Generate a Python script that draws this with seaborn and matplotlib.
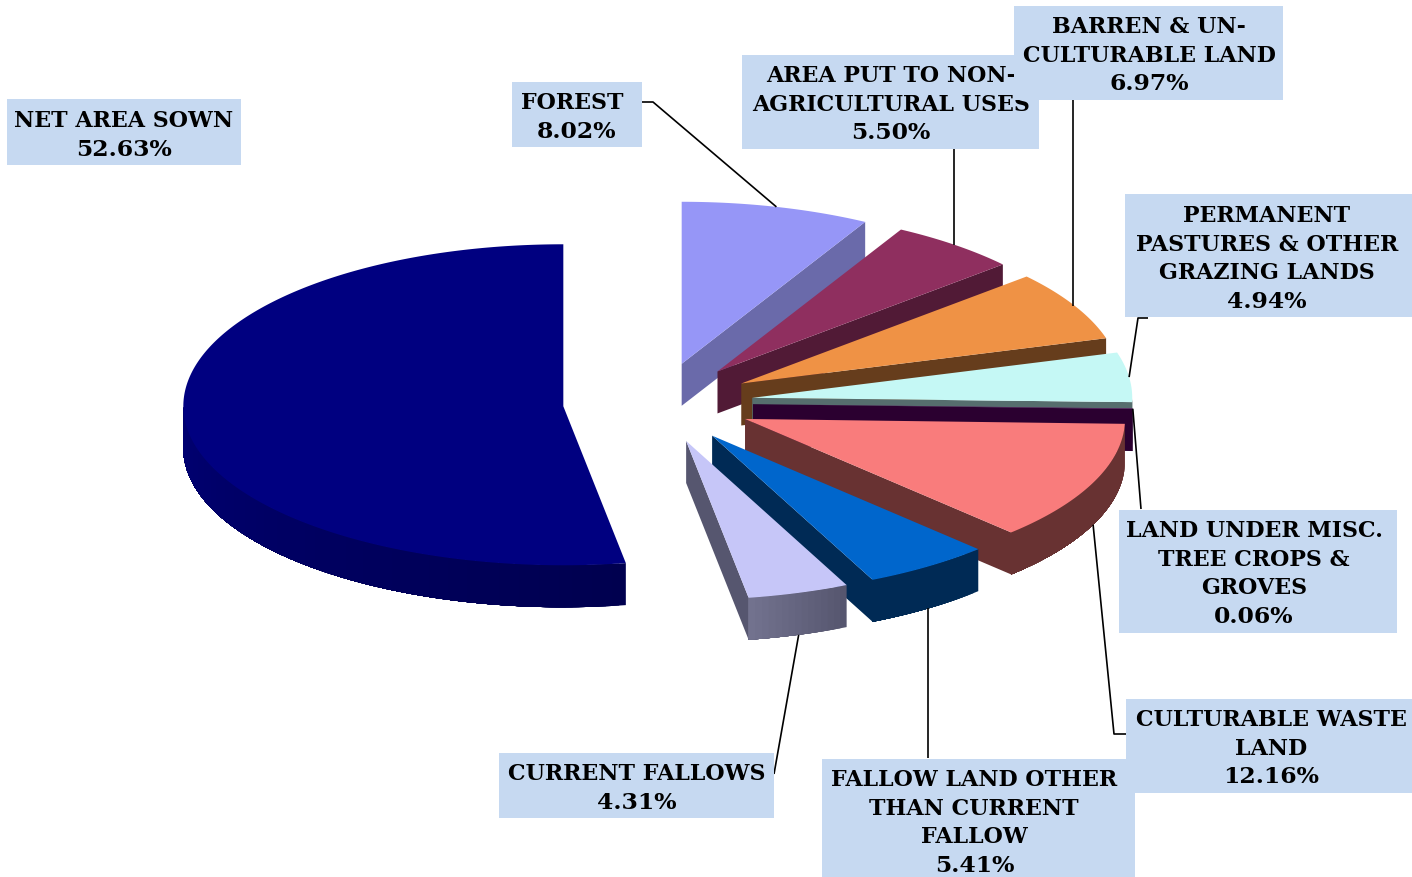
import matplotlib
matplotlib.use('Agg')
import matplotlib.pyplot as plt
import numpy as np
import seaborn as sns

# slices, clockwise from 12 o'clock
categories = [['FOREST'], ['AREA PUT TO NON-', 'AGRICULTURAL USES'], ['BARREN & UN-', 'CULTURABLE LAND'],
              ['PERMANENT', 'PASTURES & OTHER', 'GRAZING LANDS'], ['LAND UNDER MISC.', 'TREE CROPS &', 'GROVES'],
              ['CULTURABLE WASTE', 'LAND'], ['FALLOW LAND OTHER', 'THAN CURRENT', 'FALLOW'], ['CURRENT FALLOWS'],
              ['NET AREA SOWN']]
shares = [8.02, 5.50, 6.97, 4.94, 0.06, 12.16, 5.41, 4.31, 52.63]

top_colors = ['#9696F7', '#8F2F5F', '#EF9245', '#C5F8F5', '#5A0A5A', '#F97C7C', '#0066CC', '#C6C6F8', '#000080']
wall_colors = ['#6A6AAA', '#511A36', '#663D1C', '#566E6E', '#2B0030', '#683232', '#002A55', '#56566F', '#00004F']
wall_lights = ['#6A6AAA', '#511A36', '#663D1C', '#566E6E', '#2B0030', '#683232', '#002A55', '#72728E', '#000072']

# label boxes: left, top, right, bottom
boxes = [(512, 82, 642, 147), (742, 55, 1039, 149), (1014, 6, 1283, 100),
         (1125, 194, 1412, 317), (1119, 510, 1397, 633), (1126, 699, 1412, 793),
         (822, 759, 1135, 878), (499, 753, 774, 818), (7, 99, 241, 165)]
# text position of each label: x of the name, x of the percentage, y of the first line
name_x = [572, 891, 1149, 1267, 1254, 1271, 974, 637, 124]
value_x = [577, 891, 1149, 1267, 1254, 1271, 975, 637, 124]
first_y = [101, 74, 25, 214, 529, 718, 778, 772, 119]
line_step = 28.6
# leader lines run from the slice through these points to the box
leaders = [[(653, 103), (642, 103)], [(954, 149)], [(1073, 100)],
           [(1138, 319), (1148, 319)], [(1141, 510)], [(1114, 735), (1126, 735)],
           [(928, 759)], [(774, 775)], []]

center_x, center_y = 658, 404
radius_x = 380
radius_back, radius_front = 162, 159
depth = 42
explode = 0.25
box_color = '#C6D9F1'

sns.set_theme(style='white')
plt.rcParams['font.family'] = ['DejaVu Serif']

fig = plt.figure(figsize=(14.12, 8.78), dpi=100)
ax = fig.add_axes([0, 0, 1, 1])
ax.set_xlim(0, 1412)
ax.set_ylim(878, 0)
sns.despine(ax=ax, left=True, bottom=True)
ax.set_xticks([])
ax.set_yticks([])

edges = np.radians(np.concatenate([[0], np.cumsum(shares) / sum(shares) * 360]))


def point(x0, y0, t):
    # back half of the ellipse is a little taller than the front
    c = np.cos(t)
    return x0 + radius_x * np.sin(t), y0 - np.where(c > 0, radius_back, radius_front) * c


def arc(x0, y0, a, b):
    t = np.linspace(a, b, max(int(np.degrees(b - a) * 2), 2))
    return point(x0, y0, t)


for i in range(len(shares)):
    a, b = edges[i], edges[i + 1]
    mid = (a + b) / 2
    x0 = center_x + explode * radius_x * np.sin(mid)
    y0 = center_y - explode * np.where(np.cos(mid) > 0, radius_back, radius_front) * np.cos(mid)

    # side facing the viewer along the clockwise edge
    if 0 < b % (2 * np.pi) < np.pi:
        ex, ey = point(x0, y0, b)
        ax.fill([x0, ex, ex, x0], [y0, ey, ey + depth, y0 + depth], color=wall_colors[i], lw=0, zorder=2 + i)

    # rim, only the front half of the ellipse shows
    lo, hi = max(a, np.pi / 2), min(b, 3 * np.pi / 2)
    if hi > lo:
        n = max(int(np.degrees(hi - lo)), 4)
        shades = sns.blend_palette([wall_colors[i], wall_lights[i]], n)
        steps = np.linspace(lo, hi, n + 1)
        # each step runs on to the end of the rim so no seams show
        for k in range(n):
            xs, ys = arc(x0, y0, steps[k], hi)
            ax.fill(np.r_[xs, xs[::-1]], np.r_[ys, ys[::-1] + depth], color=shades[k], lw=0, zorder=2 + i)

    # top face
    xs, ys = arc(x0, y0, a, b)
    ax.fill(np.r_[x0, xs], np.r_[y0, ys], color=top_colors[i], lw=0, zorder=2 + i)

    # leader line
    if leaders[i]:
        lx, ly = point(x0, y0, mid)
        if np.cos(mid) < -0.1:
            ly += depth
        if len(leaders[i]) == 1 and abs(leaders[i][0][0] - lx) < 3:
            lx = leaders[i][0][0]
        pts = [(lx, ly)] + leaders[i]
        ax.plot(*zip(*pts), color='black', lw=1.2, zorder=20, solid_capstyle='butt')

# label boxes, barren on top of the non-agricultural text as in the original
for i in [0, 1, 3, 4, 5, 6, 7, 8, 2]:
    left, top, right, bottom = boxes[i]
    z = 40 if i == 2 else 30
    ax.fill([left, right, right, left], [top + 1, top + 1, bottom + 1, bottom + 1], color=box_color, lw=0, zorder=z)
    lines = categories[i] + [f'{shares[i]:.2f}%']
    for j, line in enumerate(lines):
        last = j == len(lines) - 1
        ax.text(value_x[i] if last else name_x[i], first_y[i] + j * line_step + 2, line, ha='center', va='center',
                fontsize=16.9 if last else 15.9, fontweight='bold', color='black', zorder=z + 1)

fig.savefig('out.png', dpi=100)
